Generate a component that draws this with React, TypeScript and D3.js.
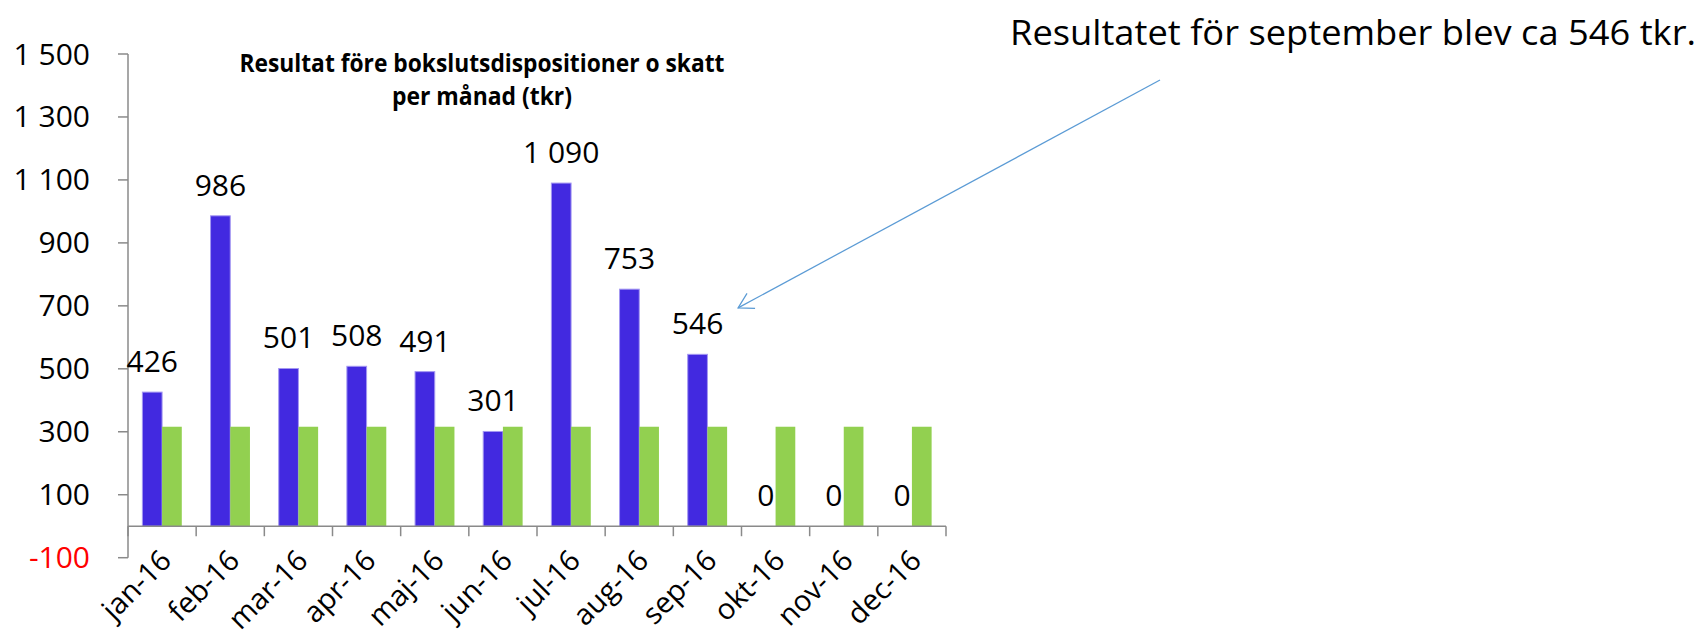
import React from 'react';
import { scaleBand, scaleLinear, formatLocale } from 'd3';

const months = ['jan-16', 'feb-16', 'mar-16', 'apr-16', 'maj-16', 'jun-16', 'jul-16', 'aug-16', 'sep-16', 'okt-16', 'nov-16', 'dec-16'];
const resultat = [426, 986, 501, 508, 491, 301, 1090, 753, 546, 0, 0, 0];
const budget = [316, 316, 316, 316, 316, 316, 316, 316, 316, 316, 316, 316];
const yTicks = [1500, 1300, 1100, 900, 700, 500, 300, 100, -100];
const titleLines = ['Resultat före bokslutsdispositioner o skatt', 'per månad (tkr)'];
const note = 'Resultatet för september blev ca 546 tkr.';
const noteMonth = 'sep-16';
const noteValue = 700;

const width = 1703;
const height = 636;
const left = 128;
const right = 946;
const top = 54;
const bottom = 557.7;

const font = "'Open Sans', 'Noto Sans', sans-serif";
const axisColor = '#8a8a8a';
const blue = '#4229e0';
const green = '#92d050';

const fmt = formatLocale({ decimal: ',', thousands: ' ', grouping: [3], currency: ['', ' kr'], minus: '-' }).format(',d');

const App = () => {
  const y = scaleLinear().domain([-100, 1500]).range([bottom, top]);
  const x = scaleBand().domain(months).range([left, right]);
  const inner = scaleBand()
    .domain(['resultat', 'budget'])
    .range([0, x.bandwidth()])
    .paddingInner(0)
    .paddingOuter(0.73);
  const bw = inner.bandwidth();
  const y0 = y(0);

  // arrow from the note down to the september label
  const tip = [x(noteMonth) + x.bandwidth() * 0.95, y(noteValue) + 2];
  const tail = [1160, 80];
  const ang = Math.atan2(tail[1] - tip[1], tail[0] - tip[0]);
  const wing = (a) => [tip[0] + 17 * Math.cos(ang + a), tip[1] + 17 * Math.sin(ang + a)];
  const w1 = wing(Math.PI / 6);
  const w2 = wing(-Math.PI / 6);

  const boundaries = months.map(m => x(m)).concat([right]);

  return (
    <svg width={width} height={height} style={{ position: 'absolute', left: 0, top: 0, display: 'block' }}
      fontFamily={font}>
      <rect width={width} height={height} fill="#fff" />

      {/* bars */}
      {months.map((m, i) => (
        <g key={m}>
          {resultat[i] > 0 && (
            <rect x={x(m) + inner('resultat')} y={y(resultat[i])} width={bw} height={y0 - y(resultat[i])}
              fill={blue} stroke="#a497f2" strokeWidth={1} />
          )}
          <rect x={x(m) + inner('budget')} y={y(budget[i])} width={bw} height={y0 - y(budget[i])} fill={green} />
        </g>
      ))}

      {/* y axis */}
      <line x1={left} x2={left} y1={top} y2={bottom} stroke={axisColor} strokeWidth={1.5} />
      {yTicks.map(t => (
        <g key={t}>
          <line x1={left - 10} x2={left} y1={y(t)} y2={y(t)} stroke={axisColor} strokeWidth={1.5} />
          <text x={90} y={y(t)} dy={10.5} textAnchor="end" fontSize={30} fill={t < 0 ? '#ff0000' : '#000'}>
            {fmt(t)}
          </text>
        </g>
      ))}

      {/* x axis */}
      <line x1={left} x2={right} y1={y0} y2={y0} stroke={axisColor} strokeWidth={1.5} />
      {boundaries.map((b, i) => (
        <line key={i} x1={b} x2={b} y1={y0} y2={y0 + 10} stroke={axisColor} strokeWidth={1.5} />
      ))}
      {months.map(m => {
        const cx = x(m) + x.bandwidth() / 2;
        return (
          <text key={m} transform={`translate(${cx + 11},${y0 + 36}) rotate(-45)`} textAnchor="end" fontSize={29}>
            {m}
          </text>
        );
      })}

      {/* data labels */}
      {months.map((m, i) => (
        <text key={m} x={x(m) + inner('resultat') + bw / 2} y={y(resultat[i]) - 20} textAnchor="middle" fontSize={30}>
          {fmt(resultat[i])}
        </text>
      ))}

      {/* title */}
      <text x={482} y={72} textAnchor="middle" fontSize={25} fontWeight="bold" textLength={485} lengthAdjust="spacingAndGlyphs">
        {titleLines[0]}
      </text>
      <text x={482} y={105} textAnchor="middle" fontSize={25} fontWeight="bold" textLength={180} lengthAdjust="spacingAndGlyphs">
        {titleLines[1]}
      </text>

      {/* note */}
      <text x={1010} y={45} fontSize={35.5} textLength={686} lengthAdjust="spacingAndGlyphs">{note}</text>
      <line x1={tail[0]} y1={tail[1]} x2={tip[0]} y2={tip[1]} stroke="#5b9bd5" strokeWidth={1.25} />
      <path d={`M${w1[0]},${w1[1]}L${tip[0]},${tip[1]}L${w2[0]},${w2[1]}`} fill="none" stroke="#5b9bd5" strokeWidth={1.25} />
    </svg>
  );
};

export default App;
